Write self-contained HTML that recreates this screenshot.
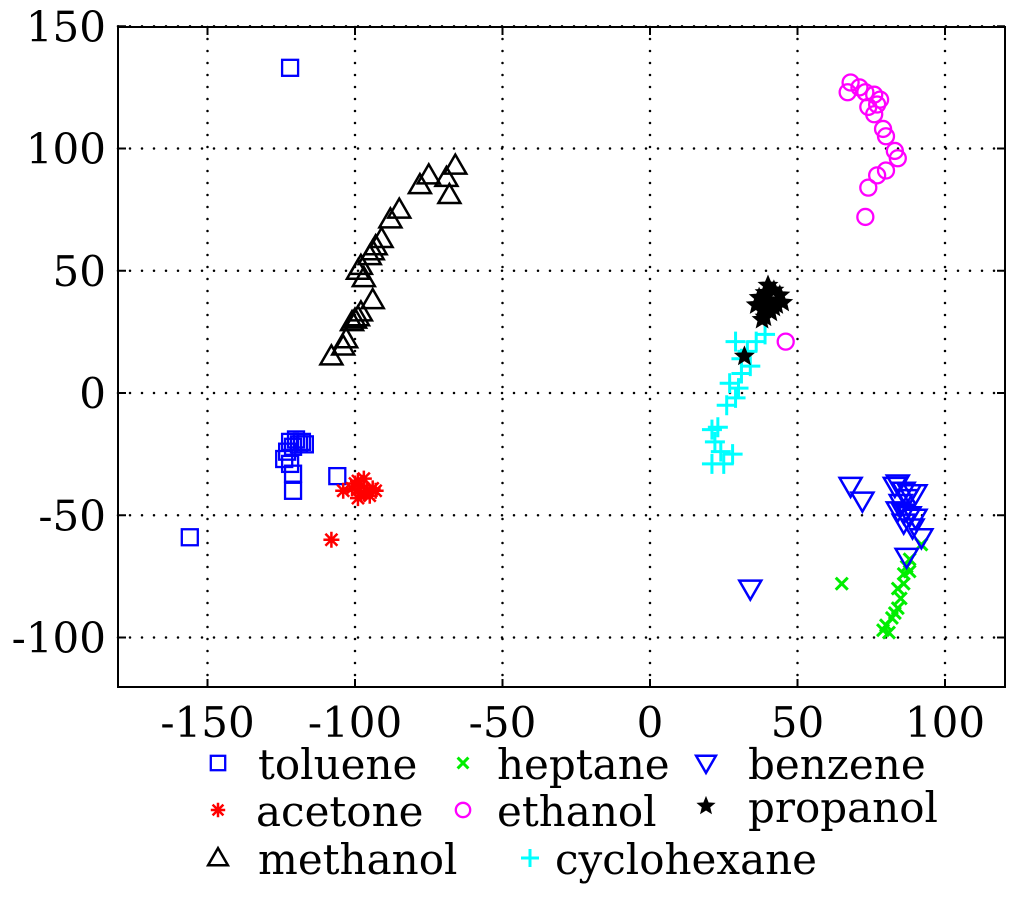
<!DOCTYPE html>
<html><head><meta charset="utf-8"><style>
body{margin:0;background:#fff;}
svg{display:block;font-family:"DejaVu Serif","Liberation Serif",serif;}
</style></head><body>
<svg id="chart" width="1024" height="910" xmlns="http://www.w3.org/2000/svg"></svg>
<script>
const xTicks=[-150,-100,-50,0,50,100];
const yTicks=[150,100,50,0,-50,-100];
const toluene=[[-122,133],[-156,-59],[-106,-34],[-122,-20],[-120,-19],[-118,-20],[-121,-22],[-123,-24],[-124,-27],[-122,-29],[-121,-33],[-121,-40],[-119,-21],[-117,-21]];
const acetone=[[-108,-60],[-104,-40],[-101,-39],[-99,-36],[-98,-38],[-97,-41],[-96,-40],[-95,-42],[-94,-39],[-93,-40],[-99,-43],[-100,-37],[-97,-35],[-98,-41]];
const methanol=[[-108,15],[-104,19],[-103,22],[-101,29],[-100,30],[-99,31],[-98,33],[-94,38],[-97,47],[-99,50],[-98,52],[-95,56],[-94,58],[-93,60],[-91,63],[-88,71],[-85,75],[-78,85],[-75,89],[-69,88],[-68,81],[-66,93]];
const heptane=[[65,-78],[92,-62],[88,-68],[87,-71],[86,-74],[88,-73],[86,-78],[84,-80],[85,-84],[84,-88],[82,-92],[80,-95],[79,-97],[81,-98],[83,-90]];
const ethanol=[[68,127],[67,123],[71,125],[73,123],[74,117],[76,122],[77,118],[76,114],[79,108],[80,105],[83,99],[84,96],[77,89],[80,91],[74,84],[73,72],[46,21],[78,120]];
const cyclohexane=[[21,-15],[23,-14],[22,-20],[24,-24],[21,-29],[25,-29],[28,-25],[26,-5],[29,-2],[30,2],[27,4],[31,8],[31,14],[33,17],[29,21],[36,21],[39,24],[34,11]];
const benzene=[[34,-80],[68,-38],[72,-44],[83,-38],[84,-37],[86,-40],[88,-41],[90,-41],[87,-43],[84,-48],[86,-49],[88,-50],[90,-51],[86,-53],[89,-55],[92,-59],[87,-67],[85,-45]];
const propanol=[[36,36],[38,34],[40,38],[42,42],[44,40],[39,31],[41,33],[37,39],[43,36],[40,44],[38,30],[42,35],[45,37],[39,41],[32,15]];

const NS="http://www.w3.org/2000/svg";
const svg=document.getElementById('chart');
const L=118,R=1005,T=27,B=687;
const X=v=>650+v*2.95;
const Y=v=>393-v*2.445;
function el(t,a,p){const e=document.createElementNS(NS,t);for(const k in a)e.setAttribute(k,a[k]);(p||svg).appendChild(e);return e;}
const grid=el('g',{});


xTicks.forEach(t=>{el('line',{x1:X(t),x2:X(t),y1:T,y2:B,stroke:'#000','stroke-width':2.5,'stroke-dasharray':'0 12','stroke-linecap':'round'},grid);});
yTicks.forEach(t=>{el('line',{x1:L,x2:R,y1:Y(t),y2:Y(t),stroke:'#000','stroke-width':2.5,'stroke-dasharray':'0 12','stroke-linecap':'round'},grid);});
const frame=el('rect',{x:L,y:T,width:R-L,height:B-T,fill:'none',stroke:'#000','stroke-width':2});


xTicks.forEach(t=>{
 el('line',{x1:X(t),x2:X(t),y1:B,y2:B-8,stroke:'#000','stroke-width':2});
 el('line',{x1:X(t),x2:X(t),y1:T,y2:T+8,stroke:'#000','stroke-width':2});
 const tx=el('text',{x:X(t),y:737,'font-size':42,'text-anchor':'middle'});tx.textContent=t;
 
 
});
yTicks.forEach(t=>{
 el('line',{x1:L,x2:L+8,y1:Y(t),y2:Y(t),stroke:'#000','stroke-width':2});
 el('line',{x1:R,x2:R-8,y1:Y(t),y2:Y(t),stroke:'#000','stroke-width':2});
 const tx=el('text',{x:106,y:Y(t)+15,'font-size':42,'text-anchor':'end'});tx.textContent=t;
 
 
});
function marker(type,x,y,c,g,s){
 s=s||1;
 if(type==='sq')el('rect',{x:x-8*s,y:y-8*s,width:16*s,height:16*s,fill:'none',stroke:c,'stroke-width':2.3},g);
 else if(type==='tri')el('polygon',{points:`${x-11*s},${y+8*s} ${x+11*s},${y+8*s} ${x},${y-11*s}`,fill:'none',stroke:c,'stroke-width':2.5},g);
 else if(type==='tdn')el('polygon',{points:`${x-11*s},${y-8*s} ${x+11*s},${y-8*s} ${x},${y+11*s}`,fill:'none',stroke:c,'stroke-width':2.5},g);
 else if(type==='circ')el('circle',{cx:x,cy:y,r:8*s,fill:'none',stroke:c,'stroke-width':2.3},g);
 else if(type==='x'){el('path',{d:`M${x-6*s},${y-6*s}L${x+6*s},${y+6*s}M${x-6*s},${y+6*s}L${x+6*s},${y-6*s}`,stroke:c,'stroke-width':3},g);}
 else if(type==='plus'){el('path',{d:`M${x-10*s},${y}L${x+10*s},${y}M${x},${y-10*s}L${x},${y+10*s}`,stroke:c,'stroke-width':3},g);}
 else if(type==='ast'){el('path',{d:`M${x-8*s},${y}L${x+8*s},${y}M${x},${y-8*s}L${x},${y+8*s}M${x-6*s},${y-6*s}L${x+6*s},${y+6*s}M${x-6*s},${y+6*s}L${x+6*s},${y-6*s}`,stroke:c,'stroke-width':2.5},g);}
 else if(type==='star'){let p=[];for(let i=0;i<10;i++){const r=i%2?4*s:9*s,a=-Math.PI/2+i*Math.PI/5;p.push((x+r*Math.cos(a)).toFixed(1)+','+(y+r*Math.sin(a)).toFixed(1));}el('polygon',{points:p.join(' '),fill:'#000',stroke:'#000','stroke-width':1.5},g);}
}
const series=[
 ['toluene',toluene,'sq','#0000ff'],['acetone',acetone,'ast','#ff0000'],['methanol',methanol,'tri','#000'],
 ['heptane',heptane,'x','#00ee00'],['ethanol',ethanol,'circ','#ff00ff'],['cyclohexane',cyclohexane,'plus','#00ffff'],
 ['benzene',benzene,'tdn','#0000ff'],['propanol',propanol,'star','#000']];
series.forEach(([n,d,t,c])=>{
 const g=el('g',{});
 
 
 d.forEach(([a,b])=>marker(t,X(a),Y(b),c,g));
});
const legend=[['toluene',218,258,765,'sq','#0000ff'],['acetone',218,256,812,'ast','#ff0000'],['methanol',218,258,860,'tri','#000'],
 ['heptane',463,497,765,'x','#00ee00'],['ethanol',463,497,812,'circ','#ff00ff'],['cyclohexane',530,555,860,'plus','#00ffff'],
 ['benzene',706,748,765,'tdn','#0000ff'],['propanol',706,748,808,'star','#000']];
legend.forEach(([n,mx,tx,y,t,c])=>{
 const g=el('g',{});
 
 
 marker(t,mx,y-2,c,g,0.9);
 const te=el('text',{x:tx,y:y+14,'font-size':42},g);te.textContent=n;
});
</script>
</body></html>
